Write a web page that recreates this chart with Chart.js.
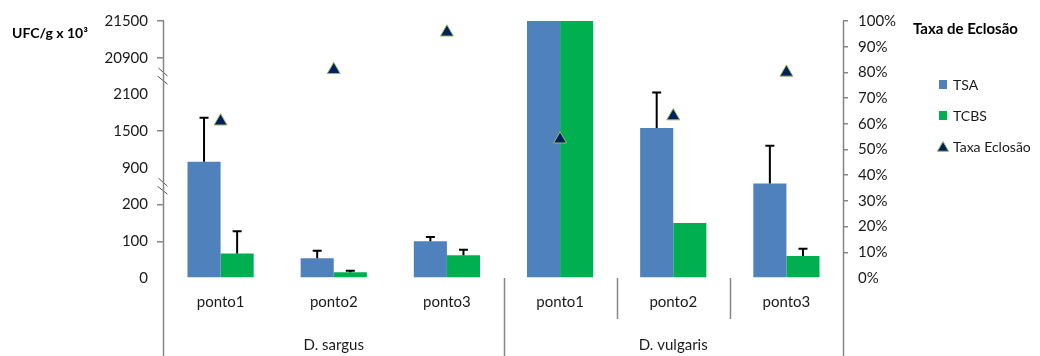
<!DOCTYPE html>
<html>
<head>
<meta charset="utf-8">
<script src="https://cdn.jsdelivr.net/npm/chart.js@4.4.1/dist/chart.umd.min.js"></script>
<style>
  html, body { margin: 0; padding: 0; background: #fff; }
  #wrap { width: 1040px; height: 356px; position: relative; }
</style>
</head>
<body>
<div id="wrap"><canvas id="c" width="1040" height="356"></canvas></div>
<script>
// Counts (UFC/g x 10^3) per sampling point, grouped by species
const categories = ['ponto1', 'ponto2', 'ponto3', 'ponto1', 'ponto2', 'ponto3'];
const groups = ['D. sargus', 'D. vulgaris'];
const groupSize = 3;

const tsa      = [1000, 54, 100, 21500, 1550, 600];
const tsaErr   = [720, 20, 12, 0, 1500, 660];
const tcbs     = [67, 16, 62, 21500, 150, 60];
const tcbsErr  = [60, 4, 15, 0, 0, 20];
const eclosao  = [61, 81, 95.6, 54, 63, 80];   // %

// Left axis: evenly spaced ticks on a broken scale
const yTicks = [0, 100, 200, 900, 1500, 2100, 20900, 21500];
const yBreaksAfter = [200, 2100];
const pctTicks = [0, 10, 20, 30, 40, 50, 60, 70, 80, 90, 100];

const FONT = 'Lato, "Open Sans", sans-serif';
const AXIS_GREY = '#868686';
const TEXT = '#1a1a1a';

// Piecewise-linear scale: every tick interval gets the same height
class BrokenScale extends Chart.LinearScale {
  determineDataLimits() {
    this.min = yTicks[0];
    this.max = yTicks[yTicks.length - 1];
  }
  buildTicks() {
    return yTicks.map(v => ({ value: v }));
  }
  toIndex(v) {
    const n = yTicks.length;
    if (v <= yTicks[0]) return 0;
    for (let i = 1; i < n; i++) {
      if (v <= yTicks[i]) return i - 1 + (v - yTicks[i - 1]) / (yTicks[i] - yTicks[i - 1]);
    }
    return n - 1 + (v - yTicks[n - 1]) / (yTicks[n - 1] - yTicks[n - 2]);
  }
  getPixelForValue(v) {
    return this.getPixelForDecimal(this.toIndex(v) / (yTicks.length - 1));
  }
  getValueForPixel(p) {
    const idx = this.getDecimalForPixel(p) * (yTicks.length - 1);
    const i = Math.max(0, Math.min(yTicks.length - 2, Math.floor(idx)));
    return yTicks[i] + (idx - i) * (yTicks[i + 1] - yTicks[i]);
  }
}
BrokenScale.id = 'broken';
BrokenScale.defaults = Chart.LinearScale.defaults;
Chart.register(BrokenScale);

function drawTriangle(ctx, x, y, r) {
  ctx.beginPath();
  ctx.moveTo(x, y - r);
  ctx.lineTo(x + 0.866 * r, y + 0.5 * r);
  ctx.lineTo(x - 0.866 * r, y + 0.5 * r);
  ctx.closePath();
  ctx.fillStyle = '#002060';
  ctx.fill();
  ctx.lineWidth = 1;
  ctx.strokeStyle = '#9BBB59';
  ctx.stroke();
}

// Upper error bars on the two bar series
const errorBars = {
  id: 'errorBars',
  afterDatasetsDraw(chart) {
    const ctx = chart.ctx;
    const yScale = chart.scales.y;
    [[0, tsa, tsaErr], [1, tcbs, tcbsErr]].forEach(([di, vals, errs]) => {
      const meta = chart.getDatasetMeta(di);
      meta.data.forEach((bar, i) => {
        if (!errs[i]) return;
        const yTop = yScale.getPixelForValue(vals[i] + errs[i]);
        ctx.save();
        ctx.strokeStyle = '#000';
        ctx.lineWidth = 2;
        ctx.beginPath();
        ctx.moveTo(bar.x, bar.y);
        ctx.lineTo(bar.x, yTop);
        ctx.moveTo(bar.x - 4.5, yTop);
        ctx.lineTo(bar.x + 4.5, yTop);
        ctx.stroke();
        ctx.restore();
      });
    });
  }
};

// Axis lines with breaks, percent labels, category dividers, group labels, titles, legend
const decorations = {
  id: 'decorations',
  afterDraw(chart) {
    const ctx = chart.ctx;
    const area = chart.chartArea;
    const y = chart.scales.y;
    const y2 = chart.scales.y2;
    const x = chart.scales.x;
    const H = chart.height;
    ctx.save();
    ctx.strokeStyle = AXIS_GREY;
    ctx.lineWidth = 1.5;

    // left axis, split into segments at the breaks
    const ax = Math.round(area.left) - 0.5;
    const segs = [];
    let start = area.top;
    yBreaksAfter.forEach(b => {
      const idx = yTicks.indexOf(b);
      const lo = y.getPixelForValue(yTicks[idx]);
      const hi = y.getPixelForValue(yTicks[idx + 1]);
      segs.push([start, hi + 5]);
      start = lo - 6;
      const c = (lo + hi) / 2;
      ctx.save();
      ctx.strokeStyle = '#555';
      ctx.lineWidth = 1;
      ctx.beginPath();
      ctx.moveTo(ax - 5, c - 8); ctx.lineTo(ax + 4, c);
      ctx.moveTo(ax - 6, c);     ctx.lineTo(ax + 4, c + 8);
      ctx.stroke();
      ctx.restore();
    });
    segs.push([start, H]);
    ctx.beginPath();
    segs.forEach(([a, b]) => { ctx.moveTo(ax, a); ctx.lineTo(ax, b); });
    ctx.stroke();

    // right axis line and its percent labels
    const rx = Math.round(area.right) + 0.5;
    ctx.beginPath();
    ctx.moveTo(rx, area.top);
    ctx.lineTo(rx, H);
    ctx.stroke();
    ctx.fillStyle = TEXT;
    ctx.font = '15px ' + FONT;
    ctx.textAlign = 'left';
    ctx.textBaseline = 'middle';
    pctTicks.forEach(v => ctx.fillText(v + '%', area.right + 15, y2.getPixelForValue(v)));

    // category dividers
    const step = x.getPixelForValue(1) - x.getPixelForValue(0);
    groups.forEach((g, gi) => {
      const first = gi * groupSize;
      if (gi > 0) {
        const bx = Math.round(x.getPixelForValue(first) - step / 2) + 0.5;
        ctx.beginPath();
        ctx.moveTo(bx, area.bottom);
        ctx.lineTo(bx, H);
        ctx.stroke();
        for (let k = 1; k < groupSize; k++) {
          const dx = Math.round(x.getPixelForValue(first + k) - step / 2) + 0.5;
          ctx.beginPath();
          ctx.moveTo(dx, area.bottom);
          ctx.lineTo(dx, area.bottom + 41);
          ctx.stroke();
        }
      }
      // group label
      const cx = (x.getPixelForValue(first) + x.getPixelForValue(first + groupSize - 1)) / 2;
      ctx.fillStyle = TEXT;
      ctx.font = '15px ' + FONT;
      ctx.textAlign = 'center';
      ctx.textBaseline = 'middle';
      ctx.fillText(g, cx, 345);
    });

    // axis titles
    ctx.fillStyle = '#000';
    ctx.textAlign = 'left';
    ctx.textBaseline = 'middle';
    ctx.font = 'bold 14px ' + FONT;
    ctx.fillText('UFC/g x 10\u00B3', 12, 33);
    ctx.font = 'bold 15px ' + FONT;
    ctx.fillText('Taxa de Eclosão', 913, 29);

    // legend
    const ds = chart.data.datasets;
    ctx.font = '14px ' + FONT;
    ctx.fillStyle = ds[0].backgroundColor;
    ctx.fillRect(939, 80, 8, 9);
    ctx.fillStyle = ds[1].backgroundColor;
    ctx.fillRect(939, 111, 8, 9);
    drawTriangle(ctx, 943, 148, 6.5);
    ctx.fillStyle = TEXT;
    ctx.fillText(ds[0].label, 953, 85);
    ctx.fillText(ds[1].label, 953, 116);
    ctx.fillText(ds[2].label, 953, 147);
    ctx.restore();
  }
};

new Chart(document.getElementById('c'), {
  type: 'bar',
  data: {
    labels: categories,
    datasets: [
      { label: 'TSA', data: tsa, backgroundColor: '#4F81BD', yAxisID: 'y', order: 2,
        categoryPercentage: 0.585, barPercentage: 1 },
      { label: 'TCBS', data: tcbs, backgroundColor: '#00B050', yAxisID: 'y', order: 2,
        categoryPercentage: 0.585, barPercentage: 1 },
      { label: 'Taxa Eclosão', type: 'line', data: eclosao, yAxisID: 'y2', order: 1,
        showLine: false, pointStyle: 'triangle', pointRadius: 7.5,
        pointBackgroundColor: '#002060', pointBorderColor: '#9BBB59', pointBorderWidth: 1 }
    ]
  },
  options: {
    responsive: false,
    animation: false,
    layout: { padding: { top: 21, left: 0, right: 0, bottom: 0 } },
    plugins: { legend: { display: false }, tooltip: { enabled: false } },
    scales: {
      x: {
        grid: { display: false },
        border: { display: false },
        ticks: { color: TEXT, font: { family: FONT, size: 15 }, padding: 7, maxRotation: 0 },
        afterFit(s) { s.height = 78; }
      },
      y: {
        type: 'broken',
        position: 'left',
        border: { display: false },
        grid: {
          drawOnChartArea: false, drawTicks: true, tickLength: 7, lineWidth: 1.5,
          color: c => (c.tick && [0, 900, 2100].includes(c.tick.value)) ? 'rgba(0,0,0,0)' : AXIS_GREY
        },
        ticks: { color: TEXT, font: { family: FONT, size: 15 }, padding: 9, callback: v => String(v) },
        afterFit(s) { s.width = 164; }
      },
      y2: {
        type: 'linear',
        position: 'right',
        min: 0, max: 100,
        border: { display: false },
        grid: {
          drawOnChartArea: false, drawTicks: true, tickLength: 5, lineWidth: 1.5,
          color: c => (c.tick && c.tick.value === 0) ? 'rgba(0,0,0,0)' : AXIS_GREY
        },
        afterBuildTicks(s) { s.ticks = pctTicks.map(v => ({ value: v })); },
        ticks: { display: false },
        afterFit(s) { s.width = 197; }
      }
    }
  },
  plugins: [errorBars, decorations]
});
</script>
</body>
</html>
